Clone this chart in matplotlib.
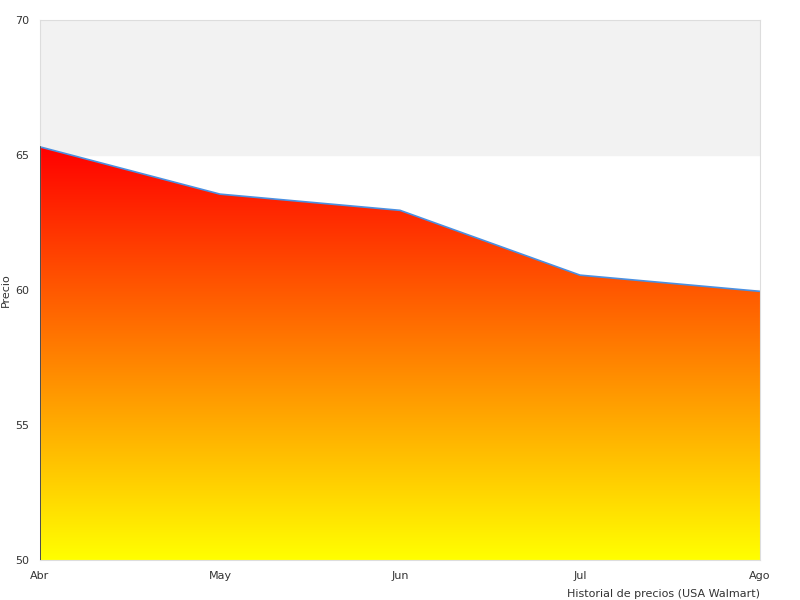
import matplotlib
matplotlib.use('Agg')
import matplotlib.pyplot as plt
import numpy as np
from matplotlib.patches import Polygon
from matplotlib.colors import LinearSegmentedColormap

months = ['Abr', 'May', 'Jun', 'Jul', 'Ago']
prices = [65.3, 63.55, 62.95, 60.55, 59.95]

fig = plt.figure(figsize=(8, 6), dpi=100)
ax = fig.add_axes([0.05, 0.0667, 0.9, 0.9])
x = np.arange(len(months))
ax.set_xlim(0, len(months) - 1)
ax.set_ylim(50, 70)

# alternating bands
ax.axhspan(65, 70, color='#f2f2f2', zorder=0)
ax.axhspan(55, 60, color='#f2f2f2', zorder=0)

# gradient fill under the line
cmap = LinearSegmentedColormap.from_list('ry', ['#ffff00', '#ff0000'])
grad = np.linspace(0, 1, 256).reshape(-1, 1)
im = ax.imshow(grad, aspect='auto', cmap=cmap, origin='lower',
               extent=[0, len(months) - 1, 50, max(prices)], zorder=1)
verts = [(0, 50)] + list(zip(x, prices)) + [(len(months) - 1, 50)]
clip = Polygon(verts, closed=True, transform=ax.transData, facecolor='none', edgecolor='none')
ax.add_patch(clip)
im.set_clip_path(clip)

ax.plot(x, prices, color='#4a90e2', lw=1.2, zorder=2)
ax.plot([0, 0], [50, prices[0]], color='#333333', lw=1.2, zorder=3)

ax.set_xticks(x)
ax.set_xticklabels(months)
ax.set_yticks([50, 55, 60, 65, 70])
ax.tick_params(length=0, labelsize=8, colors='#333333', pad=8)
for s in ax.spines.values():
    s.set_color('#dddddd')
ax.set_ylabel('Precio', fontsize=8, color='#333333')
ax.yaxis.set_label_coords(-0.041, 0.5)
ax.set_xlabel('Historial de precios (USA Walmart)', fontsize=8, color='#333333', loc='right', labelpad=6)

fig.savefig('out.png')
